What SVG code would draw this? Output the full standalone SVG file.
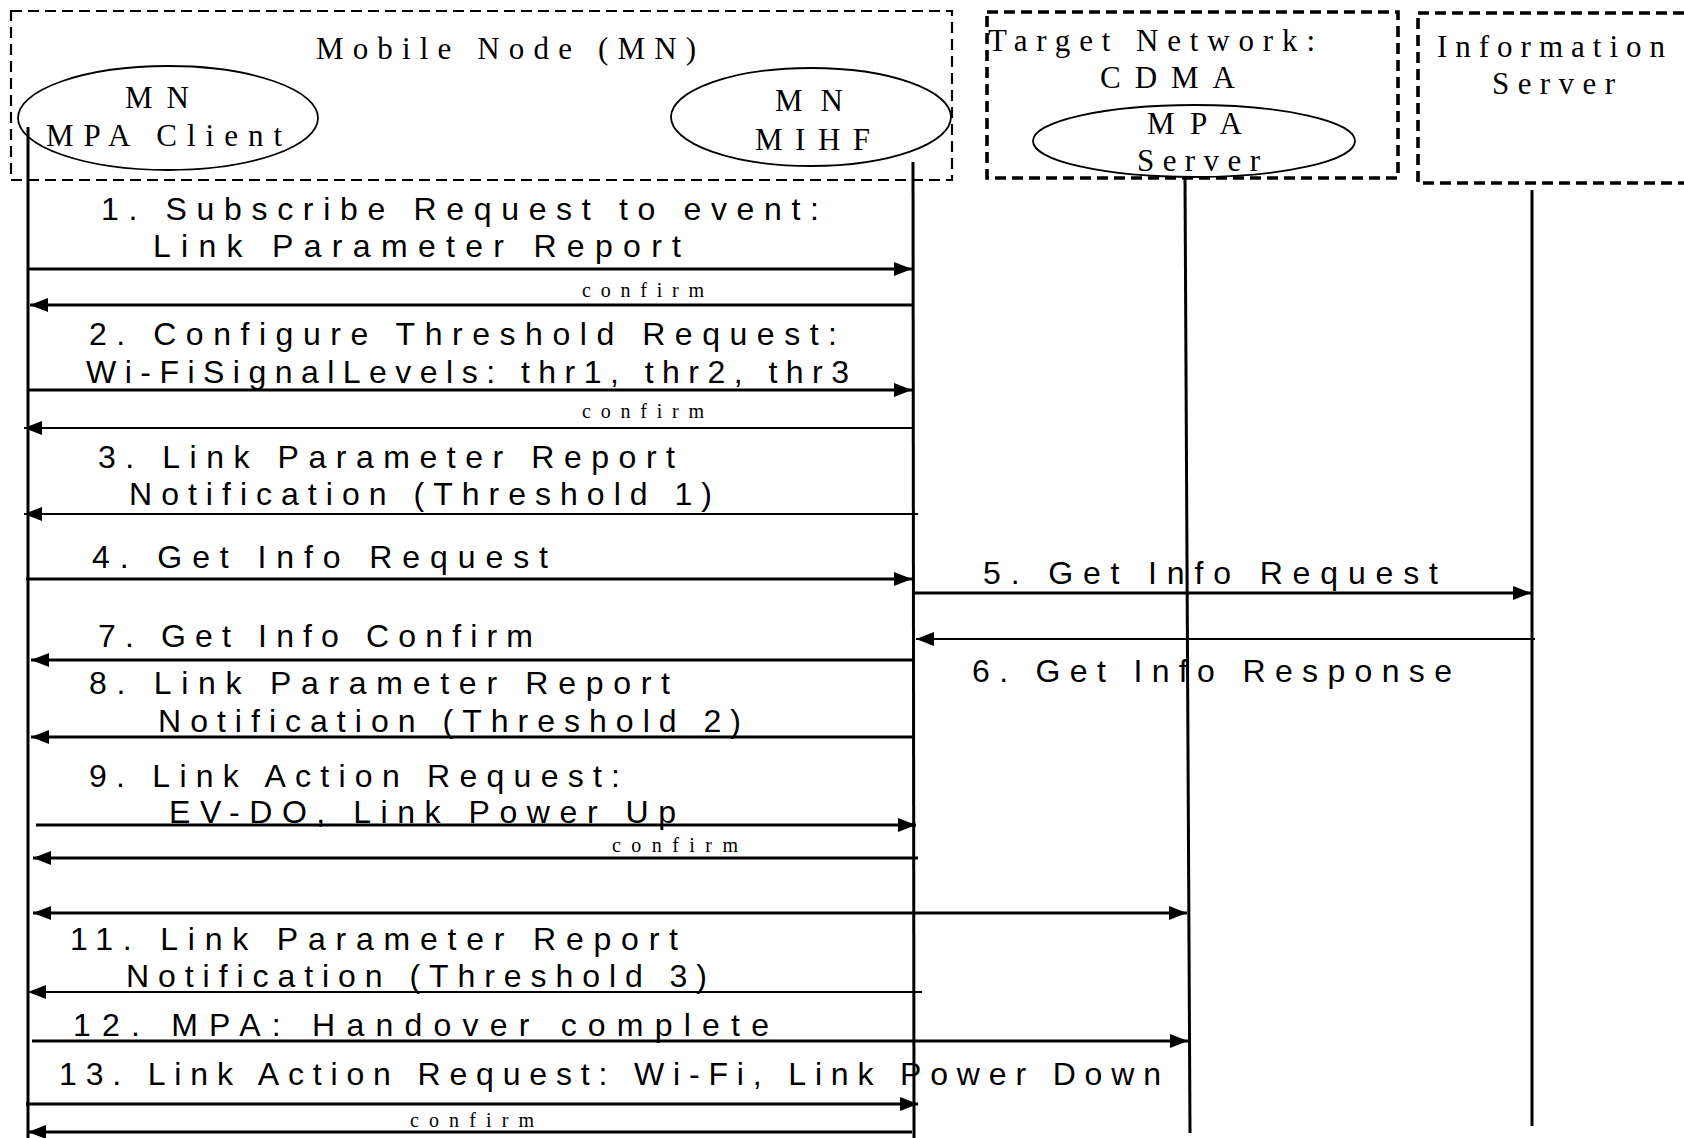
<svg xmlns="http://www.w3.org/2000/svg" width="1684" height="1138" viewBox="0 0 1684 1138">
  <style>
    .bg { fill: #ffffff; }
    .frame { fill: none; stroke: #000; stroke-dasharray: 11 6; }
    .frame-thin { stroke-width: 2.2; }
    .frame-bold { stroke-width: 3.6; }
    .role { fill: none; stroke: #000; stroke-width: 1.8; }
    .life { fill: none; stroke: #000; stroke-width: 3; }
    .msg { fill: none; stroke: #000; stroke-width: 3; }
    .msg-thin { fill: none; stroke: #000; stroke-width: 2; }
    .hdr { font-family: "Liberation Serif", "Times New Roman", serif; font-size: 31px; fill: #000; }
    .lbl { font-family: "Liberation Sans", Arial, sans-serif; font-size: 32px; fill: #000; }
    .cf { font-family: "Liberation Serif", "Times New Roman", serif; font-size: 20px; fill: #000; }
  </style>
  <defs>
    <marker id="head" markerUnits="userSpaceOnUse" markerWidth="19" markerHeight="14" refX="18" refY="7" orient="auto-start-reverse">
      <path d="M0,0 L18,7 L0,14 Z" fill="#000"/>
    </marker>
  </defs>

  <rect class="bg" x="0" y="0" width="1684" height="1138"/>

  <!-- Mobile Node frame with its two entities -->
  <g id="mobile-node">
    <rect class="frame frame-thin" x="11" y="11" width="941" height="169"/>
    <text class="hdr" x="316" y="59" textLength="380" lengthAdjust="spacing">Mobile Node (MN)</text>
  </g>
  <g id="mn-mpa-client">
    <ellipse class="role" cx="168" cy="118" rx="150" ry="52"/>
    <text class="hdr" x="125" y="108" textLength="64" lengthAdjust="spacing">MN</text>
    <text class="hdr" x="46" y="146" textLength="236" lengthAdjust="spacing">MPA Client</text>
  </g>
  <g id="mn-mihf">
    <ellipse class="role" cx="811" cy="117" rx="140" ry="49"/>
    <text class="hdr" x="775" y="111" textLength="68" lengthAdjust="spacing">MN</text>
    <text class="hdr" x="755" y="150" textLength="115" lengthAdjust="spacing">MIHF</text>
  </g>

  <!-- Target network frame with the MPA server -->
  <g id="target-network">
    <rect class="frame frame-bold" x="987" y="12" width="411" height="166"/>
    <text class="hdr" x="988" y="51" textLength="327" lengthAdjust="spacing">Target Network:</text>
    <text class="hdr" x="1100" y="88" textLength="135" lengthAdjust="spacing">CDMA</text>
  </g>
  <g id="mpa-server">
    <ellipse class="role" cx="1194" cy="141" rx="161" ry="36"/>
    <text class="hdr" x="1147" y="134" textLength="95" lengthAdjust="spacing">MPA</text>
    <text class="hdr" x="1137" y="171" textLength="123" lengthAdjust="spacing">Server</text>
  </g>

  <!-- Information server frame -->
  <g id="information-server">
    <rect class="frame frame-bold" x="1418" y="13" width="280" height="170"/>
    <text class="hdr" x="1437" y="57" textLength="228" lengthAdjust="spacing">Information</text>
    <text class="hdr" x="1492" y="94" textLength="123" lengthAdjust="spacing">Server</text>
  </g>

  <!-- Lifelines -->
  <g id="lifelines">
    <line class="life" x1="28" y1="127" x2="28" y2="1138"/>
    <line class="life" x1="913" y1="162" x2="914" y2="1138"/>
    <line class="life" x1="1185" y1="178" x2="1190" y2="1133"/>
    <line class="life" x1="1532" y1="190" x2="1532" y2="1126"/>
  </g>

  <!-- Messages -->
  <g id="connectors">
    <line class="msg" x1="29" y1="269" x2="912" y2="269" marker-end="url(#head)"/>
    <line class="msg" x1="912" y1="305" x2="30" y2="305" marker-end="url(#head)"/>
    <line class="msg" x1="29" y1="390" x2="912" y2="390" marker-end="url(#head)"/>
    <line class="msg-thin" x1="912" y1="428" x2="24" y2="428" marker-end="url(#head)"/>
    <line class="msg-thin" x1="918" y1="514" x2="24" y2="514" marker-end="url(#head)"/>
    <line class="msg" x1="26" y1="579" x2="912" y2="579" marker-end="url(#head)"/>
    <line class="msg" x1="915" y1="593" x2="1531" y2="593" marker-end="url(#head)"/>
    <line class="msg-thin" x1="1535" y1="639" x2="916" y2="639" marker-end="url(#head)"/>
    <line class="msg" x1="912" y1="660" x2="31" y2="660" marker-end="url(#head)"/>
    <line class="msg" x1="912" y1="737" x2="31" y2="737" marker-end="url(#head)"/>
    <line class="msg" x1="36" y1="825" x2="916" y2="825" marker-end="url(#head)"/>
    <line class="msg" x1="918" y1="858" x2="33" y2="858" marker-end="url(#head)"/>
    <line class="msg" x1="33" y1="913" x2="1187" y2="913" marker-start="url(#head)" marker-end="url(#head)"/>
    <line class="msg-thin" x1="922" y1="992" x2="28" y2="992" marker-end="url(#head)"/>
    <line class="msg" x1="32" y1="1041" x2="1188" y2="1041" marker-end="url(#head)"/>
    <line class="msg" x1="26" y1="1104" x2="918" y2="1104" marker-end="url(#head)"/>
    <line class="msg" x1="912" y1="1132" x2="28" y2="1132" marker-end="url(#head)"/>
  </g>

  <!-- Message labels -->
  <g id="labels">
    <text class="lbl" x="101" y="220" textLength="718" lengthAdjust="spacing">1. Subscribe Request to event:</text>
    <text class="lbl" x="153" y="257" textLength="528" lengthAdjust="spacing">Link Parameter Report</text>
    <text class="cf" x="582" y="297" textLength="122" lengthAdjust="spacing">confirm</text>
    <text class="lbl" x="89" y="345" textLength="748" lengthAdjust="spacing">2. Configure Threshold Request:</text>
    <text class="lbl" x="86" y="383" textLength="763" lengthAdjust="spacing">Wi-FiSignalLevels: thr1, thr2, thr3</text>
    <text class="cf" x="582" y="418" textLength="122" lengthAdjust="spacing">confirm</text>
    <text class="lbl" x="98" y="468" textLength="577" lengthAdjust="spacing">3. Link Parameter Report</text>
    <text class="lbl" x="129" y="505" textLength="583" lengthAdjust="spacing">Notification (Threshold 1)</text>
    <text class="lbl" x="92" y="568" textLength="456" lengthAdjust="spacing">4. Get Info Request</text>
    <text class="lbl" x="983" y="584" textLength="455" lengthAdjust="spacing">5. Get Info Request</text>
    <text class="lbl" x="972" y="682" textLength="480" lengthAdjust="spacing">6. Get Info Response</text>
    <text class="lbl" x="98" y="647" textLength="435" lengthAdjust="spacing">7. Get Info Confirm</text>
    <text class="lbl" x="89" y="694" textLength="581" lengthAdjust="spacing">8. Link Parameter Report</text>
    <text class="lbl" x="158" y="732" textLength="583" lengthAdjust="spacing">Notification (Threshold 2)</text>
    <text class="lbl" x="89" y="787" textLength="531" lengthAdjust="spacing">9. Link Action Request:</text>
    <text class="lbl" x="169" y="823" textLength="507" lengthAdjust="spacing">EV-DO, Link Power Up</text>
    <text class="cf" x="612" y="852" textLength="126" lengthAdjust="spacing">confirm</text>
    <text class="lbl" x="70" y="950" textLength="608" lengthAdjust="spacing">11. Link Parameter Report</text>
    <text class="lbl" x="126" y="987" textLength="581" lengthAdjust="spacing">Notification (Threshold 3)</text>
    <text class="lbl" x="73" y="1036" textLength="696" lengthAdjust="spacing">12. MPA: Handover complete</text>
    <text class="lbl" x="59" y="1085" textLength="1102" lengthAdjust="spacing">13. Link Action Request: Wi-Fi, Link Power Down</text>
    <text class="cf" x="410" y="1127" textLength="124" lengthAdjust="spacing">confirm</text>
  </g>
</svg>
